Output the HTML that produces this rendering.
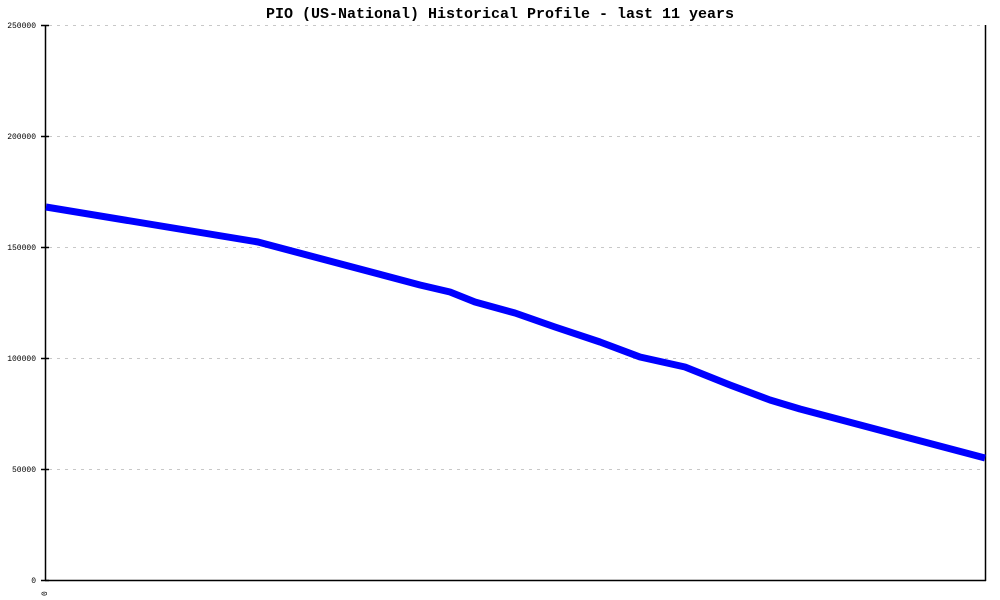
<!DOCTYPE html>
<html><head><style>body{margin:0;background:#fff}svg{display:block}</style></head><body>
<svg width="1000" height="600" xmlns="http://www.w3.org/2000/svg" font-family="Liberation Mono, monospace">
<rect width="1000" height="600" fill="#fff"/>
<text x="500" y="18" text-anchor="middle" font-size="15" font-weight="bold" fill="#000">PIO (US-National) Historical Profile - last 11 years</text>
<g stroke="#c8c8c8" stroke-dasharray="3,5" stroke-width="1">
<line x1="49" y1="25.5" x2="985" y2="25.5"/>
<line x1="49" y1="136.5" x2="985" y2="136.5"/>
<line x1="49" y1="247.5" x2="985" y2="247.5"/>
<line x1="49" y1="358.5" x2="985" y2="358.5"/>
<line x1="49" y1="469.5" x2="985" y2="469.5"/>
</g>
<g stroke="#000" stroke-width="1.5">
<line x1="45.5" y1="25" x2="45.5" y2="581"/>
<line x1="45" y1="580.5" x2="986" y2="580.5"/>
<line x1="985.5" y1="25" x2="985.5" y2="581"/>
<line x1="41" y1="25.5" x2="49" y2="25.5"/>
<line x1="41" y1="136.5" x2="49" y2="136.5"/>
<line x1="41" y1="247.5" x2="49" y2="247.5"/>
<line x1="41" y1="358.5" x2="49" y2="358.5"/>
<line x1="41" y1="469.5" x2="49" y2="469.5"/>
<line x1="41" y1="580.5" x2="49" y2="580.5"/>
</g>
<g font-size="8" fill="#000" text-anchor="end">
<text x="36" y="28">250000</text>
<text x="36" y="139">200000</text>
<text x="36" y="250">150000</text>
<text x="36" y="361">100000</text>
<text x="36" y="472">50000</text>
<text x="36" y="583">0</text>
</g>
<text transform="translate(47,596) rotate(-90)" font-size="8" fill="#000">0</text>
<polyline fill="none" stroke="#0000ff" stroke-width="7" stroke-linejoin="round" points="46,207 258,242 420,285 450,292 475,302 515,313 555,327 600,342 640,357 685,367 730,385 770,400 800,409 985,458"/>
</svg>
</body></html>
